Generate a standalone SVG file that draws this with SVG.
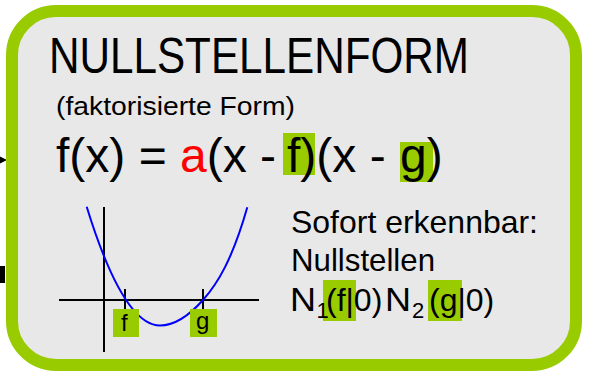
<svg xmlns="http://www.w3.org/2000/svg" width="589" height="371" viewBox="0 0 589 371">
<style>
  text { font-family: "Liberation Sans", Arial, sans-serif; fill: #000; }
  .hl { fill: #99cc00; }
  .axis { stroke: #000; stroke-width: 2; fill: none; }
  .curve { stroke: #0000ff; stroke-width: 2; fill: none; }
</style>
<rect width="589" height="371" fill="#ffffff"/>
<g id="connectors">
  <polygon points="0,156.5 7,160 0,163.5" fill="#000"/>
  <rect x="0" y="266" width="5" height="17" fill="#000"/>
</g>
<g id="node-nullstellenform">
  <rect x="12" y="11" width="564" height="354" rx="44" ry="44" fill="#e8e8e8" stroke="#99cc00" stroke-width="12"/>
  <text x="49" y="73" font-size="50" textLength="420" lengthAdjust="spacingAndGlyphs">NULLSTELLENFORM</text>
  <text x="56" y="115" font-size="26" textLength="239" lengthAdjust="spacingAndGlyphs">(faktorisierte Form)</text>
  <rect class="hl" x="283" y="133" width="32" height="42"/>
  <rect class="hl" x="400" y="142" width="33" height="40"/>
  <text y="172" font-size="48"><tspan x="56">f(x) = </tspan><tspan x="180" fill="#ff0000">a</tspan><tspan>(x - </tspan><tspan x="287">f</tspan><tspan>)(x - </tspan><tspan x="400">g</tspan><tspan>)</tspan></text>
  <g id="graph">
    <line class="axis" x1="59" y1="300" x2="259" y2="300"/>
    <line class="axis" x1="104" y1="207" x2="104" y2="352"/>
    <line class="axis" x1="125" y1="289" x2="125" y2="310"/>
    <line class="axis" x1="203" y1="289" x2="203" y2="310"/>
    <path class="curve" d="M86.7,206.7 Q123.35,325.5 160,325.5 C174.3,325.5 188.7,316.1 203,300 C217.8,283.4 232.5,259.1 247.3,207.3"/>
    <rect class="hl" x="113" y="309" width="26" height="28"/>
    <rect class="hl" x="190" y="309" width="27" height="28"/>
    <text x="121" y="331" font-size="24">f</text>
    <text x="196" y="329" font-size="24">g</text>
  </g>
  <text x="291" y="233" font-size="32" textLength="247" lengthAdjust="spacingAndGlyphs">Sofort erkennbar:</text>
  <text x="291" y="271" font-size="32" textLength="144" lengthAdjust="spacingAndGlyphs">Nullstellen</text>
  <rect class="hl" x="323" y="280" width="33" height="41"/>
  <rect class="hl" x="428" y="280" width="34" height="41"/>
  <text x="290" y="311" font-size="33" textLength="26" lengthAdjust="spacingAndGlyphs">N</text>
  <text x="316.5" y="317.5" font-size="22">1</text>
  <text x="326" y="311" font-size="32">(f|0)</text>
  <text x="385" y="311" font-size="33" textLength="26" lengthAdjust="spacingAndGlyphs">N</text>
  <text x="412" y="317.5" font-size="22">2</text>
  <text x="429" y="311" font-size="32">(g|0)</text>
</g>
</svg>
